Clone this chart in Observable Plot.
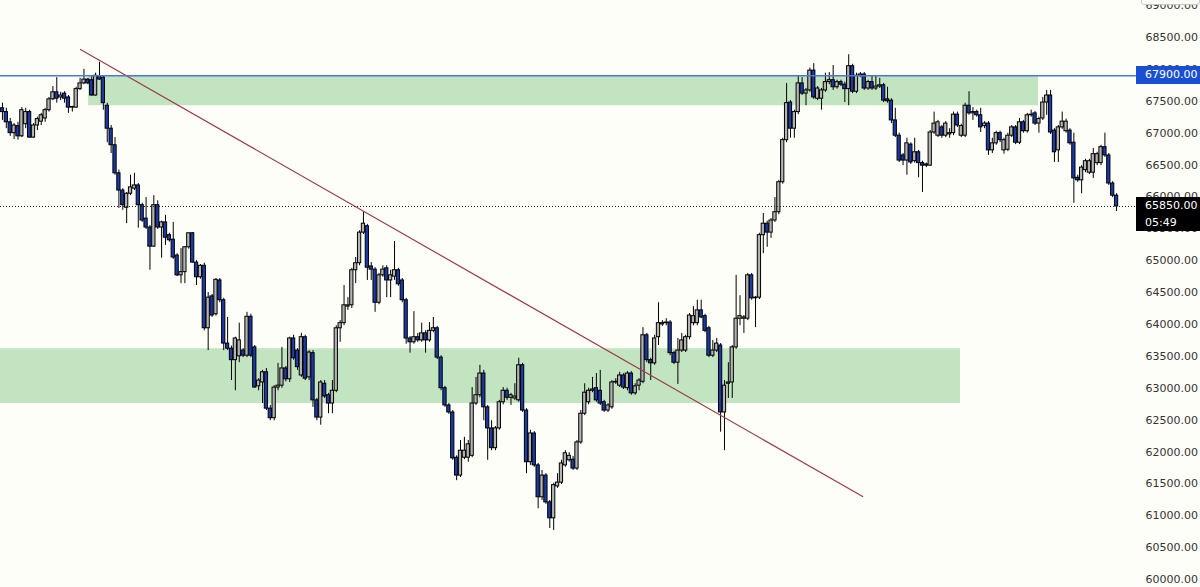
<!DOCTYPE html>
<html><head><meta charset="utf-8">
<script src="https://cdn.jsdelivr.net/npm/d3@7"></script>
<script src="https://cdn.jsdelivr.net/npm/@observablehq/plot@0.6"></script>
<style>
html,body{margin:0;padding:0;background:#fefef8;overflow:hidden}
#wrap{position:relative;width:1200px;height:587px;font-family:"DejaVu Sans",sans-serif}
#wrap svg{position:absolute;left:0;top:0}
.tag{position:absolute;left:1136px;width:64px;color:#fff;font-size:11px;padding-left:9px;box-sizing:border-box;line-height:17px}
</style></head><body><div id="wrap"></div>
<script>
// candles: [open, high, low, close]
const ohlc = [
[67390,67470,67200,67330],[67330,67390,67070,67170],[67170,67230,66950,67000],[67000,67150,66900,67120],[67110,67170,66890,66950],
[66950,67400,66930,67360],[67140,67390,67070,67330],[67330,67360,66920,66930],[66930,67150,66920,67120],[67120,67250,67040,67220],
[67180,67310,67120,67280],[67230,67390,67170,67360],[67360,67560,67330,67530],[67530,67730,67510,67640],[67640,67870,67470,67540],
[67560,67640,67510,67590],[67620,67650,67470,67540],[67560,67590,67310,67400],[67400,67420,67330,67410],[67400,67720,67390,67690],
[67690,67860,67670,67780],[67780,68000,67760,67840],[67840,67860,67760,67780],[67830,67890,67580,67590],[67590,67940,67580,67900],
[67890,68110,67830,67840],[67870,67900,67360,67470],[67430,67470,66850,67070],[67070,67120,66680,66810],[66810,66930,66340,66370],
[66370,66420,65820,66100],[66100,66130,65790,65870],[65830,66070,65580,66050],[66050,66340,66020,66150],[66130,66370,66100,66180],
[66180,66210,65510,65870],[65870,65900,65600,65630],[65660,65990,65490,65520],[65520,65550,64850,65220],[65220,66020,65210,65870],
[65870,65940,65490,65520],[65520,65620,65040,65600],[65600,65710,65240,65360],[65400,65430,65290,65320],[65330,65600,65020,65050],
[65080,65110,64750,64770],[64770,65190,64640,64820],[64820,65220,64640,65210],[65210,65430,65180,65430],[65430,65440,64960,64970],
[64970,65000,64610,64740],[64740,64940,64710,64920],[64920,64960,63900,63940],[63940,64500,63590,64420],[64440,64470,64110,64140],
[64160,64720,64130,64700],[64690,64720,64340,64380],[64380,64410,63590,63700],[63700,64110,63590,63620],[63620,63660,63120,63440],
[63440,63800,62960,63780],[63500,64020,63400,63750],[63590,63620,63480,63510],[63510,64190,63480,64120],[64120,64160,63480,63510],
[63640,63670,63000,63010],[63030,63150,62960,63120],[63090,63280,62760,63250],[63250,63310,62650,62680],[62680,62730,62490,62530],
[62530,63040,62490,63010],[63010,63390,62960,63040],[63040,63640,63000,63310],[63310,63340,63100,63140],[63140,63800,63090,63780],
[63780,63830,63440,63470],[63590,63620,63280,63330],[63200,63860,63170,63800],[63800,63830,63120,63150],[63170,63590,63120,63560],
[63550,63590,62700,62810],[62810,62840,62490,62540],[62540,63120,62420,63090],[63070,63120,62840,62870],[62890,62920,62600,62760],
[62760,63120,62600,62960],[62960,63980,62930,63940],[63940,64060,63720,64020],[64020,64610,63980,64300],[64280,64420,64220,64300],
[64300,64880,64250,64850],[64850,65050,64640,64960],[64960,65470,64920,65440],[65440,65760,65410,65580],[65540,65570,64690,64890],
[64910,64970,64690,64860],[64860,64890,64190,64340],[64340,64800,64310,64770],[64770,64920,64740,64860],[64880,64920,64420,64690],
[64690,64850,64420,64770],[64750,65300,64690,64850],[64850,64880,64600,64630],[64690,64720,64340,64380],[64380,64410,63690,63780],
[63780,63810,63550,63720],[63720,64200,63690,63800],[63800,63860,63720,63750],[63750,64020,63720,63860],[63860,63900,63550,63750],
[63750,64030,63720,63900],[63900,64110,63870,63940],[63940,63970,63450,63480],[63480,63510,62960,63000],[63000,63030,62700,62730],
[62730,62760,62590,62620],[62620,62650,61870,61900],[61910,61940,61550,61630],[61630,62180,61600,62020],[61910,62230,61880,62020],
[61910,62180,61840,62120],[61940,63010,61910,62760],[62760,63170,62730,62890],[62890,63360,62850,63230],[63230,63280,62490,62700],
[62700,62730,61870,62370],[62370,62490,62020,62060],[62060,62400,62020,62370],[62370,62810,62340,62780],[62780,63010,62740,62960],
[62960,63000,62810,62850],[62850,62920,62730,62890],[62840,63070,62810,62870],[62810,63470,62780,63360],[63360,63390,62620,62650],
[62650,62680,61660,61840],[61840,62340,61790,62290],[62290,62320,61760,61790],[61790,61820,61110,61290],[61290,61710,61240,61630],
[61630,61660,61180,61210],[61210,61240,60800,60960],[60960,61510,60770,61480],[61460,61660,61430,61520],[61520,61870,61490,61820],
[61790,62020,61760,61980],[61870,61990,61840,61940],[61880,61930,61710,61740],[61740,62180,61710,62150],[62150,62650,62120,62600],
[62600,63070,62570,62930],[62780,63000,62740,62960],[62960,63170,62930,62980],[63000,63230,62780,62810],[62960,63280,62730,62760],
[62780,62810,62620,62650],[62650,62760,62620,62730],[62700,63120,62670,63090],[63090,63150,63060,63100],[63040,63250,63010,63200],
[63200,63230,62980,63010],[63000,63260,62960,63230],[63230,63260,62890,62920],[62920,63070,62890,63030],[63040,63150,62960,63120],
[63100,63950,63070,63830],[63830,63860,63400,63440],[63440,63470,63120,63390],[63390,63830,63360,63780],[63800,64340,63670,64020],
[64000,64060,63970,64020],[64020,64090,63980,64030],[64030,64060,63510,63550],[63550,63580,63370,63400],[63400,63780,63060,63590],
[63590,63860,63560,63750],[63590,63830,63560,63800],[63800,64170,63760,64140],[64020,64280,63980,64130],[64020,64380,63980,64220],
[64220,64380,64090,64110],[64130,64160,63870,63900],[63940,63970,63480,63510],[63510,63750,63480,63590],[63590,63780,63560,63700],
[63670,63700,62310,62620],[62620,63120,62020,63040],[63070,63400,62840,63090],[63090,63670,62840,63640],[63640,64770,63610,64090],
[64090,64450,63980,64130],[64090,64140,63860,64110],[64090,64800,64060,64770],[64770,64800,64380,64410],[64410,64440,63950,64420],
[64420,65430,64390,65400],[65400,65740,65110,65580],[65580,65620,65210,65440],[65440,65660,65350,65630],[65630,65990,65600,65760],
[65760,66260,65720,66230],[66230,66920,66200,66890],[66890,67780,66850,67470],[67480,67510,66920,67070],[67070,67360,66920,67330],
[67330,67900,67290,67780],[67780,67870,67590,67620],[67620,67700,67430,67670],[67670,68020,67640,67980],[67980,68090,67530,67560],
[67540,67730,67510,67700],[67540,67700,67360,67670],[67670,67940,67640,67800],[67800,67950,67760,67830],[67830,68060,67670,67720],
[67720,67830,67690,67800],[67800,67830,67730,67760],[67760,67800,67480,67690],[67690,68230,67430,68050],[68050,68080,67620,67650],
[67650,67940,67620,67900],[67900,67950,67870,67920],[67920,67950,67670,67700],[67700,67830,67670,67800],[67800,67900,67670,67700],
[67700,67900,67670,67730],[67730,67860,67700,67750],[67750,67780,67480,67510],[67530,67720,67470,67500],[67510,67540,67150,67200],
[67200,67390,66930,66960],[66960,67000,66540,66570],[66650,66680,66490,66570],[66570,66920,66340,66840],[66820,66850,66510,66540],
[66560,66920,66530,66700],[66700,66730,66300,66530],[66530,66560,66070,66490],[66510,66530,66460,66490],[66490,67040,66480,67010],
[67010,67330,66980,67150],[66960,67200,66930,67170],[67090,67120,66920,66960],[66960,67180,66930,67150],[66980,67070,66920,67000],
[67000,67330,66960,67290],[67290,67330,67090,67120],[66960,67140,66930,67110],[66960,67470,66930,67430],[67430,67650,67280,67310],
[67310,67400,67200,67330],[67330,67360,67250,67280],[67280,67390,67010,67090],[67110,67180,67070,67150],[67150,67180,66650,66730],
[66730,66920,66680,66840],[66840,67030,66810,67000],[67000,67030,66850,66890],[66730,66920,66670,66890],[66740,67000,66710,66960],
[66960,67120,66930,67090],[67090,67120,66820,66850],[66850,67230,66820,67170],[67170,67200,67000,67030],[67030,67310,67000,67280],
[67280,67360,67250,67290],[67310,67340,67120,67150],[67150,67250,67000,67220],[67230,67560,67200,67480],[67480,67670,67280,67590],
[67590,67670,66980,67010],[67040,67070,66540,66700],[66730,67120,66540,67090],[67090,67330,67060,67180],[67030,67220,67000,67180],
[67040,67070,66810,66840],[66850,67000,65900,66290],[66300,66340,66230,66260],[66260,66490,66050,66460],[66420,66590,66380,66560],
[66380,66590,66350,66560],[66380,66760,66290,66670],[66530,66700,66490,66670],[66530,66810,66490,66780],[66780,67000,66620,66650],
[66650,66680,66180,66210],[66210,66240,65990,66020],[66020,66050,65770,65850]
];
// supply / demand zones (bar index range, price range)
const zones = [
  {from: 22.2, to: 266.9, low: 67430, high: 67900},
  {from: -0.5, to: 246.8, low: 62760, high: 63620}
];
// trend line anchors (bar index, price)
const trendLine = [{i: 20.1, price: 68312}, {i: 221.6, price: 61302}];
// horizontal price lines
const levelLine = [{price: 67900, from: -0.5, to: 292.1}];
const bidLine = [{price: 65850, from: -0.5, to: 292.1}];
const bidTime = "05:49";
const yTicks = d3.range(60000, 69001, 500);

const upFill = "#b4b4b4", downFill = "#1a3aa8";
const candles = ohlc.map(([open, high, low, close], i) => ({i, open, high, low, close}));

const chart = Plot.plot({
  width: 1200, height: 587,
  marginTop: 0, marginBottom: 0, marginLeft: 0, marginRight: 75,
  x: {domain: [-0.5, 287.5], range: [0, 1118], axis: null},
  y: {domain: [59875, 69080], label: null},
  color: {type: "identity"},
  style: {background: "transparent", fontFamily: "DejaVu Sans, sans-serif", fontSize: "11px", overflow: "visible"},
  marks: [
    Plot.rect(zones, {x1: "from", x2: "to", y1: "low", y2: "high", fill: "#c3e4c1"}),
    Plot.ruleX(candles, {x: "i", y1: "low", y2: "high", stroke: "#000", strokeWidth: 1}),
    Plot.rect(candles, {
      x1: d => d.i - 0.42, x2: d => d.i + 0.42,
      y1: "open", y2: d => d.close === d.open ? d.close + 6 : d.close,
      fill: d => d.close >= d.open ? upFill : downFill,
      stroke: "#000", strokeWidth: 1
    }),
    Plot.line(trendLine, {x: "i", y: "price", stroke: "#9b3d48", strokeWidth: 1.2}),
    Plot.ruleY(levelLine, {y: "price", x1: "from", x2: "to", stroke: "#4a78d4", strokeWidth: 1.5}),
    Plot.ruleY(bidLine, {y: "price", x1: "from", x2: "to", stroke: "#222", strokeWidth: 1, strokeDasharray: "1,2"}),
    Plot.axisY({ticks: yTicks, anchor: "right", tickSize: 0, tickPadding: 20, tickFormat: d => d.toFixed(2), fill: "#333"})
  ]
});

const wrap = document.getElementById("wrap");
wrap.appendChild(chart);
const ys = chart.scale("y");

const topBox = document.createElement("div");
topBox.style.cssText = "position:absolute;left:1141px;top:-4px;width:57px;height:7px;border:1px solid #c8c8c8;border-radius:3px;background:#fefef8";
wrap.appendChild(topBox);

const blueTag = document.createElement("div");
blueTag.className = "tag";
blueTag.style.top = (ys.apply(levelLine[0].price) - 9) + "px";
blueTag.style.height = "18px";
blueTag.style.background = "#1b4fd1";
blueTag.textContent = levelLine[0].price.toFixed(2);
wrap.appendChild(blueTag);

const blackTag = document.createElement("div");
blackTag.className = "tag";
blackTag.style.top = (ys.apply(bidLine[0].price) - 9) + "px";
blackTag.style.height = "34px";
blackTag.style.background = "#000";
blackTag.innerHTML = bidLine[0].price.toFixed(2) + "<br>" + bidTime;
wrap.appendChild(blackTag);
</script></body></html>
